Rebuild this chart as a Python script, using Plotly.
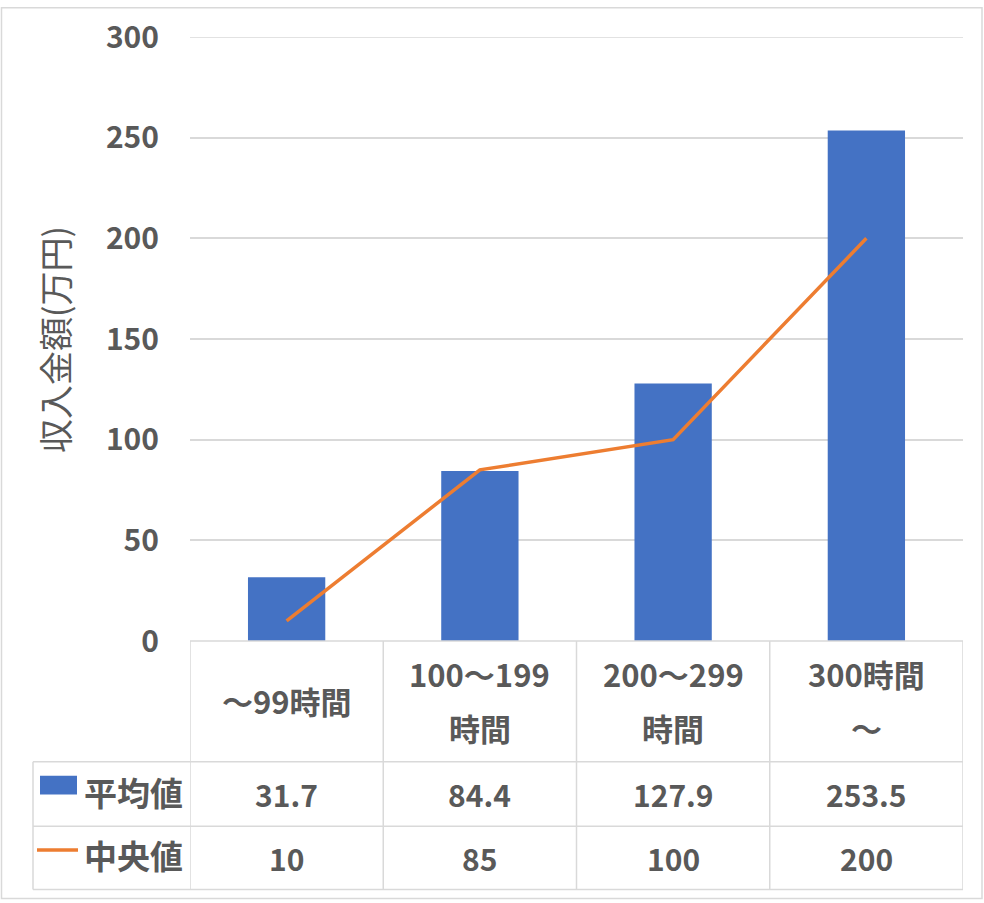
import plotly.graph_objects as go

categories = ["～99時間", "100～199\n時間", "200～299\n時間", "300時間\n～"]
mean_values = [31.7, 84.4, 127.9, 253.5]
median_values = [10, 85, 100, 200]
mean_labels = ["31.7", "84.4", "127.9", "253.5"]
median_labels = ["10", "85", "100", "200"]
series_names = ["平均値", "中央値"]
y_title = "収入金額(万円)"
y_ticks = [0, 50, 100, 150, 200, 250, 300]

W, H = 984, 903
L, R, T, B = 190, 21, 31, 262
PW, PH = W - L - R, H - T - B

def px_x(x):
    return (x - L) / PW

def px_y(y):
    return (H - B - y) / PH

BLUE = "#4472C4"
ORANGE = "#ED7D31"
TEXT = "#595959"
GRID = "#D9D9D9"
FONT = "Noto Sans CJK JP"

fig = go.Figure()
fig.add_trace(go.Bar(x=list(range(4)), y=mean_values, name=series_names[0],
                     marker=dict(color=BLUE, line=dict(width=0)), width=0.4))
fig.add_trace(go.Scatter(x=list(range(4)), y=median_values, name=series_names[1],
                         mode="lines", line=dict(color=ORANGE, width=3.5)))

shapes = []
line_style = dict(color=GRID, width=1.5)
shapes.append(dict(type="line", xref="paper", yref="y", x0=0, x1=1, y0=y_ticks[-1], y1=y_ticks[-1],
                   line=line_style, layer="below"))
shapes.append(dict(type="line", xref="paper", yref="paper", x0=0, x1=1, y0=0, y1=0, line=line_style))
for yy in [763, 828, 892]:
    shapes.append(dict(type="line", xref="paper", yref="paper", x0=px_x(33), x1=1,
                       y0=px_y(yy), y1=px_y(yy), line=line_style))
for i in range(len(categories) + 1):
    shapes.append(dict(type="line", xref="x", yref="paper", x0=i - 0.5, x1=i - 0.5,
                       y0=0, y1=px_y(892), line=line_style))
shapes.append(dict(type="line", xref="paper", yref="paper", x0=px_x(33), x1=px_x(33),
                   y0=px_y(763), y1=px_y(892), line=line_style))
shapes.append(dict(type="rect", xref="paper", yref="paper", x0=px_x(40), x1=px_x(77),
                   y0=px_y(796), y1=px_y(777), fillcolor=BLUE, line=dict(width=0)))
shapes.append(dict(type="line", xref="paper", yref="paper", x0=px_x(37), x1=px_x(78),
                   y0=px_y(852), y1=px_y(852), line=dict(color=ORANGE, width=3.5)))
shapes.append(dict(type="rect", xref="paper", yref="paper", x0=px_x(1.5), x1=px_x(982),
                   y0=px_y(901), y1=px_y(1.5), line=dict(color=GRID, width=1.5)))

ann = []
cat_font = dict(family=FONT, size=31, color=TEXT, weight="bold")
val_font = dict(family=FONT, size=30, color=TEXT, weight="bold")
for i, c in enumerate(categories):
    lines = c.split("\n")
    n = len(lines)
    for j, ln in enumerate(lines):
        yc = 701 + (j - (n - 1) / 2) * 55
        ann.append(dict(x=i, xref="x", y=px_y(yc), yref="paper", text=ln, showarrow=False,
                        font=cat_font, xanchor="center", yanchor="middle"))
for i in range(4):
    ann.append(dict(x=i, xref="x", y=px_y(796), yref="paper", text=mean_labels[i], showarrow=False,
                    font=val_font, xanchor="center", yanchor="middle"))
    ann.append(dict(x=i, xref="x", y=px_y(860), yref="paper", text=median_labels[i], showarrow=False,
                    font=val_font, xanchor="center", yanchor="middle"))
for name, yc in zip(series_names, [793, 857]):
    ann.append(dict(x=px_x(133), xref="paper", y=px_y(yc), yref="paper", text=name, showarrow=False,
                    font=dict(family=FONT, size=33, color=TEXT, weight="bold"),
                    xanchor="center", yanchor="middle"))
ann.append(dict(x=px_x(55), xref="paper", y=px_y(337), yref="paper", text=y_title, showarrow=False,
                textangle=-90, font=dict(family=FONT, size=34, color=TEXT),
                xanchor="center", yanchor="middle"))

fig.update_layout(
    width=W, height=H,
    margin=dict(l=L, r=R, t=T, b=B),
    paper_bgcolor="white", plot_bgcolor="white",
    showlegend=False,
    shapes=shapes, annotations=ann,
    xaxis=dict(range=[-0.5, 3.5], showticklabels=False, showgrid=False, zeroline=False,
               showline=False, ticks=""),
    yaxis=dict(range=[0, 300], tickvals=y_ticks, showgrid=True, gridcolor=GRID, gridwidth=1.5,
               zeroline=False, showline=False, ticks="", ticklabelstandoff=30,
               ticklabeloverflow="allow",
               tickfont=dict(family=FONT, size=30, color=TEXT, weight="bold")),
    font=dict(family=FONT),
)

fig.write_html(
    "out.html", config={"displayModeBar": False},
    post_script="document.body.style.margin='0';document.body.style.overflow='hidden';",
)
